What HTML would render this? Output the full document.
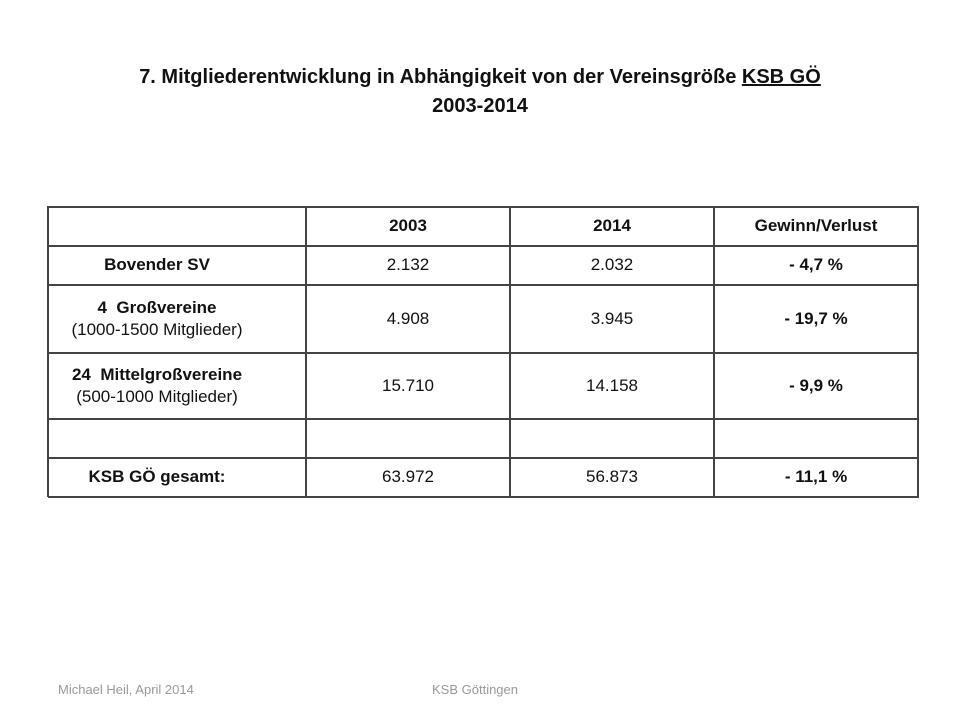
<!DOCTYPE html>
<html><head><meta charset="utf-8"><style>
body{margin:0;background:#fff;font-family:"Liberation Sans",sans-serif;}
#slide{position:relative;width:960px;height:720px;overflow:hidden;background:#fff;}
.title{position:absolute;left:0;width:960px;text-align:center;font-weight:bold;font-size:20px;color:#111;}
.hl{position:absolute;height:2px;background:#444;}
.vl{position:absolute;width:2px;background:#444;}
.c{position:absolute;display:flex;align-items:center;justify-content:center;text-align:center;font-size:17px;color:#111;line-height:1.3;box-sizing:border-box;}
.c0{padding-right:40px;}
.b{font-weight:bold;}
.foot{position:absolute;top:682px;font-size:13px;color:#999;}
</style></head><body>
<div id="slide">
<div class="title" style="top:66px">7. Mitgliederentwicklung in Abhängigkeit von der Vereinsgröße <u>KSB GÖ</u></div>
<div class="title" style="top:95px">2003-2014</div>
<div id="tbl"></div>
<div class="foot" style="left:58px">Michael Heil, April 2014</div>
<div class="foot" style="left:432px">KSB Göttingen</div>
</div>
<script>
const xs=[48,306,510,714,918];
const ys=[207,246,285,353,419,458,497];
const rows=[
 [["",0],["2003",1],["2014",1],["Gewinn/Verlust",1]],
 [["Bovender SV",1],["2.132",0],["2.032",0],["- 4,7 %",1]],
 [["<b>4&nbsp; Großvereine</b><br>(1000-1500&nbsp;Mitglieder)",0],["4.908",0],["3.945",0],["- 19,7 %",1]],
 [["<b>24&nbsp; Mittelgroßvereine</b><br>(500-1000&nbsp;Mitglieder)",0],["15.710",0],["14.158",0],["- 9,9 %",1]],
 [["",0],["",0],["",0],["",0]],
 [["KSB GÖ gesamt:",1],["63.972",0],["56.873",0],["- 11,1 %",1]]
];
const t=document.getElementById('tbl');
ys.forEach(y=>{const d=document.createElement('div');d.className='hl';


d.style.cssText=`left:${xs[0]}px;top:${y-1}px;width:${xs[4]-xs[0]+1}px`;t.appendChild(d);});
xs.forEach(x=>{const d=document.createElement('div');d.className='vl';


d.style.cssText=`left:${x-1}px;top:${ys[0]-1}px;height:${ys[6]-ys[0]+1}px`;t.appendChild(d);});
rows.forEach((r,i)=>r.forEach((cell,j)=>{const d=document.createElement('div');
d.className='c'+(cell[1]?' b':'')+(j===0?' c0':'');


d.style.cssText=`left:${xs[j]}px;top:${ys[i]}px;width:${xs[j+1]-xs[j]}px;height:${ys[i+1]-ys[i]}px`;
const s=document.createElement('span');


s.innerHTML=cell[0];d.appendChild(s);t.appendChild(d);}));
</script>
</body></html>
